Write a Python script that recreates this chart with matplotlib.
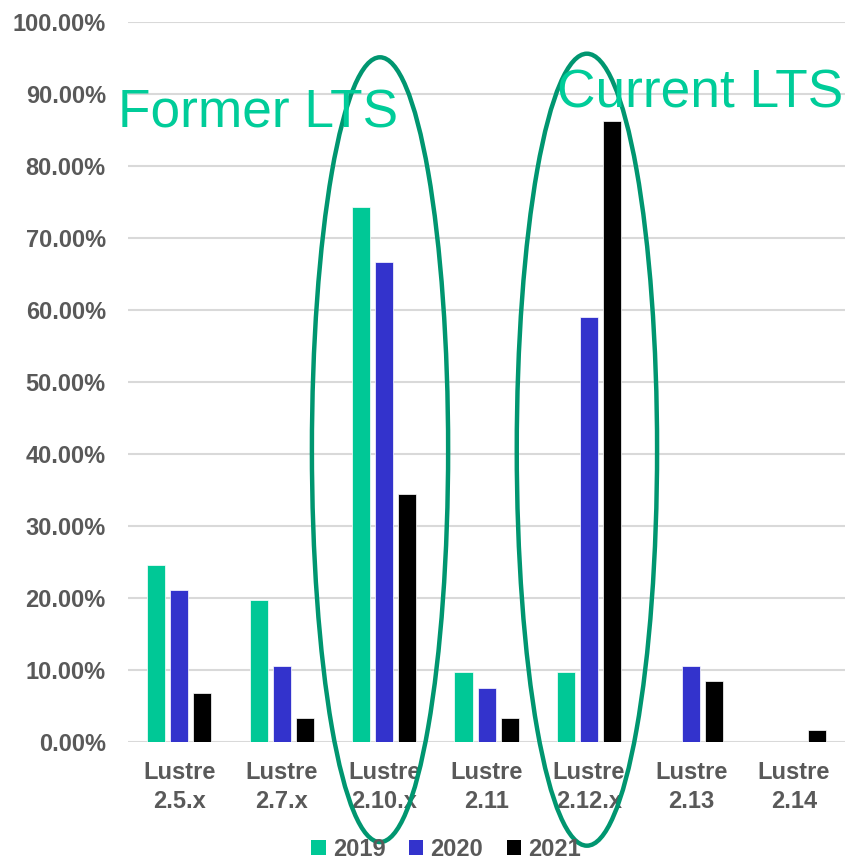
import matplotlib.pyplot as plt
import numpy as np
from matplotlib.patches import Ellipse, Patch

plt.rcParams['font.family'] = ['Liberation Sans', 'DejaVu Sans']

versions = ['Lustre\n2.5.x', 'Lustre\n2.7.x', 'Lustre\n2.10.x', 'Lustre\n2.11',
            'Lustre\n2.12.x', 'Lustre\n2.13', 'Lustre\n2.14']
years = ['2019', '2020', '2021']
share_2019 = [24.6, 19.7, 74.3, 9.7, 9.7, 0.0, 0.0]
share_2020 = [21.1, 10.5, 66.7, 7.5, 59.0, 10.5, 0.0]
share_2021 = [6.8, 3.4, 34.4, 3.4, 86.2, 8.5, 1.7]

colors = ['#00C896', '#3333CC', '#000000']
gray = '#595959'
ring = '#009670'

fig = plt.figure(figsize=(8.48, 8.6), dpi=100, facecolor='w')
ax = fig.add_axes([0.151, 0.1372, 0.8455, 0.8372])

x = np.arange(len(versions))
w = 0.176
step = 0.225
for i, vals in enumerate([share_2019, share_2020, share_2021]):
    v = np.array(vals) / 100
    ax.bar(x + (i - 1) * step, v, width=w, color=colors[i],
           edgecolor='white', linewidth=0.5, zorder=3)

ax.set_xlim(-0.5, len(versions) - 0.5)
ax.set_ylim(0, 1.0)
ax.set_yticks(np.arange(0, 1.01, 0.1))
ax.set_yticklabels(['%.2f%%' % (t * 100) for t in np.arange(0, 1.01, 0.1)])
ax.set_xticks(x)
ax.set_xticklabels(versions)
ax.grid(axis='y', color='#D9D9D9', linewidth=1.5, zorder=0)
for s in ax.spines.values():
    s.set_visible(False)
ax.tick_params(length=0, labelsize=17, labelcolor=gray)
ax.tick_params(axis='y', pad=16)
ax.tick_params(axis='x', pad=14)
for lbl in ax.get_xticklabels() + ax.get_yticklabels():
    lbl.set_fontweight('bold')
for lbl in ax.get_xticklabels():
    lbl.set_linespacing(1.3)

# LTS rings around 2.10.x and 2.12.x
ax.add_patch(Ellipse((1.96, 0.406), 1.33, 1.09, fill=False, edgecolor=ring,
                     linewidth=3.2, clip_on=False, zorder=5))
ax.add_patch(Ellipse((3.98, 0.406), 1.37, 1.10, fill=False, edgecolor=ring,
                     linewidth=3.2, clip_on=False, zorder=5))

fig.text(118 / 848, 1 - 127 / 860, 'Former LTS', fontsize=38.3, color='#00CC99',
         ha='left', va='baseline')
fig.text(557 / 848, 1 - 108 / 860, 'Current LTS', fontsize=38.3, color='#00CC99',
         ha='left', va='baseline')

handles = [Patch(facecolor=c, edgecolor='none') for c in colors]
leg = fig.legend(handles, years, loc='lower center', bbox_to_anchor=(0.526, -0.026),
                 ncol=3, frameon=False, handlelength=0.6, handleheight=0.6,
                 handletextpad=0.3, columnspacing=1.0,
                 prop={'size': 17, 'weight': 'bold'})
for t in leg.get_texts():
    t.set_color(gray)

plt.savefig('out.png', dpi=100)
